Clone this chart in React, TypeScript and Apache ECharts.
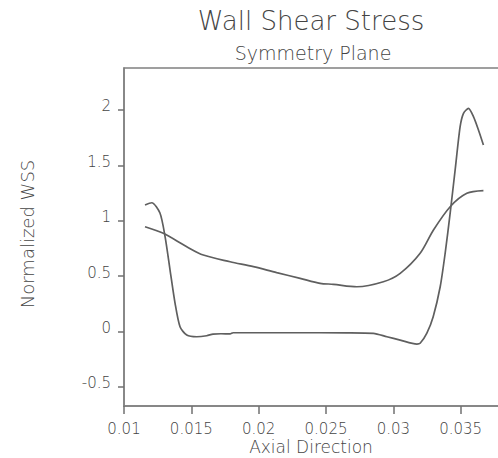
import React, { useEffect, useRef } from "react";
import * as echarts from "echarts";

const titleText = "Wall Shear Stress";
const subtitleText = "Symmetry Plane";
const xAxisName = "Axial Direction";
const yAxisName = "Normalized WSS";

const yTickValues = [-0.5, 0, 0.5, 1, 1.5, 2];

// Oscillating curve (sharp drop / sharp rise)
const curveAX = [0.01156, 0.01206, 0.01267, 0.01305, 0.01342, 0.01379, 0.01416, 0.01466, 0.0154, 0.01614, 0.01661, 0.0172, 0.01788, 0.0181, 0.0225, 0.0265, 0.02852, 0.02952, 0.03051, 0.03175, 0.03199, 0.03249, 0.03296, 0.03348, 0.03385, 0.03422, 0.03459, 0.03496, 0.03521, 0.03558, 0.03595, 0.03632, 0.03669];
const curveAY = [1.142, 1.162, 1.069, 0.856, 0.555, 0.257, 0.043, -0.032, -0.047, -0.038, -0.023, -0.02, -0.022, -0.011, -0.011, -0.012, -0.016, -0.047, -0.077, -0.113, -0.106, -0.014, 0.134, 0.404, 0.708, 1.069, 1.458, 1.848, 1.969, 2.014, 1.939, 1.819, 1.683];

// Smooth curve
const curveBX = [0.01156, 0.01292, 0.01466, 0.01589, 0.01788, 0.01961, 0.02134, 0.02308, 0.02456, 0.02555, 0.02729, 0.02926, 0.03051, 0.03199, 0.03298, 0.03422, 0.03546, 0.03669];
const curveBY = [0.946, 0.886, 0.765, 0.69, 0.63, 0.585, 0.531, 0.48, 0.435, 0.426, 0.404, 0.449, 0.525, 0.706, 0.916, 1.126, 1.247, 1.271];

const pair = (xs: number[], ys: number[]) => xs.map((x, i) => [x, ys[i]]);

export default function App() {
  const ref = useRef<HTMLDivElement>(null);
  useEffect(() => {
    if (!ref.current) return;
    const chart = echarts.init(ref.current, undefined, { renderer: "svg" });
    const ink = "#444";
    const font = "DejaVu Sans";
    chart.setOption({
      animation: false,
      backgroundColor: "#ffffff",
      grid: {
        left: 124,
        top: 68,
        width: 404,
        height: 338,
        outerBoundsMode: "none",
        containLabel: false,
        show: true,
        borderColor: "#808080",
        borderWidth: 1.5,
      },
      xAxis: {
        type: "value",
        min: 0.01,
        max: 0.04,
        interval: 0.005,
        axisLine: { show: true, onZero: false, lineStyle: { color: "#808080", width: 1.5 } },
        axisTick: { show: true, inside: false, length: 8, lineStyle: { color: "#707070", width: 1.5 } },
        axisLabel: {
          color: ink,
          fontFamily: font,
          fontWeight: 200,
          fontSize: 15,
          lineHeight: 13,
          margin: 16,
          showMaxLabel: false,
          formatter: (v: number) => String(+v.toFixed(3)),
        },
        splitLine: { show: false },
      },
      yAxis: {
        type: "value",
        min: -0.672,
        max: 2.378,
        axisLine: { show: true, onZero: false, lineStyle: { color: "#808080", width: 1.5 } },
        axisTick: { show: true, inside: false, length: 6, customValues: yTickValues, lineStyle: { color: "#707070", width: 1.5 } },
        axisLabel: {
          color: ink,
          fontFamily: font,
          fontWeight: 200,
          fontSize: 15,
          margin: 13,
          customValues: yTickValues,
          verticalAlign: "bottom",
          lineHeight: 7,
          formatter: (v: number) => String(+v.toFixed(2)),
        },
        splitLine: { show: false },
      },
      graphic: [
        { type: "text", x: 311, y: 21, style: { text: titleText, fill: ink, font: `200 26px "${font}"`, textAlign: "center", textVerticalAlign: "middle" } },
        { type: "text", x: 313, y: 53, style: { text: subtitleText, fill: ink, font: `200 19px "${font}"`, textAlign: "center", textVerticalAlign: "middle" } },
        { type: "text", x: 311, y: 447, style: { text: xAxisName, fill: ink, font: `200 17px "${font}"`, lineHeight: 15, textAlign: "center", textVerticalAlign: "middle" } },
        { type: "text", x: 27, y: 234, rotation: Math.PI / 2, style: { text: yAxisName, fill: ink, font: `200 18px "${font}"`, textAlign: "center", textVerticalAlign: "middle" } },
      ],
      series: [
        {
          type: "line",
          data: pair(curveAX, curveAY),
          smooth: 0.25,
          showSymbol: false,
          lineStyle: { color: "#5f5f5f", width: 1.7 },
        },
        {
          type: "line",
          data: pair(curveBX, curveBY),
          smooth: 0.3,
          showSymbol: false,
          lineStyle: { color: "#5f5f5f", width: 1.7 },
        },
      ],
    });
    return () => chart.dispose();
  }, []);
  return <div ref={ref} style={{ position: "fixed", left: 0, top: 0, width: 498, height: 458 }} />;
}
